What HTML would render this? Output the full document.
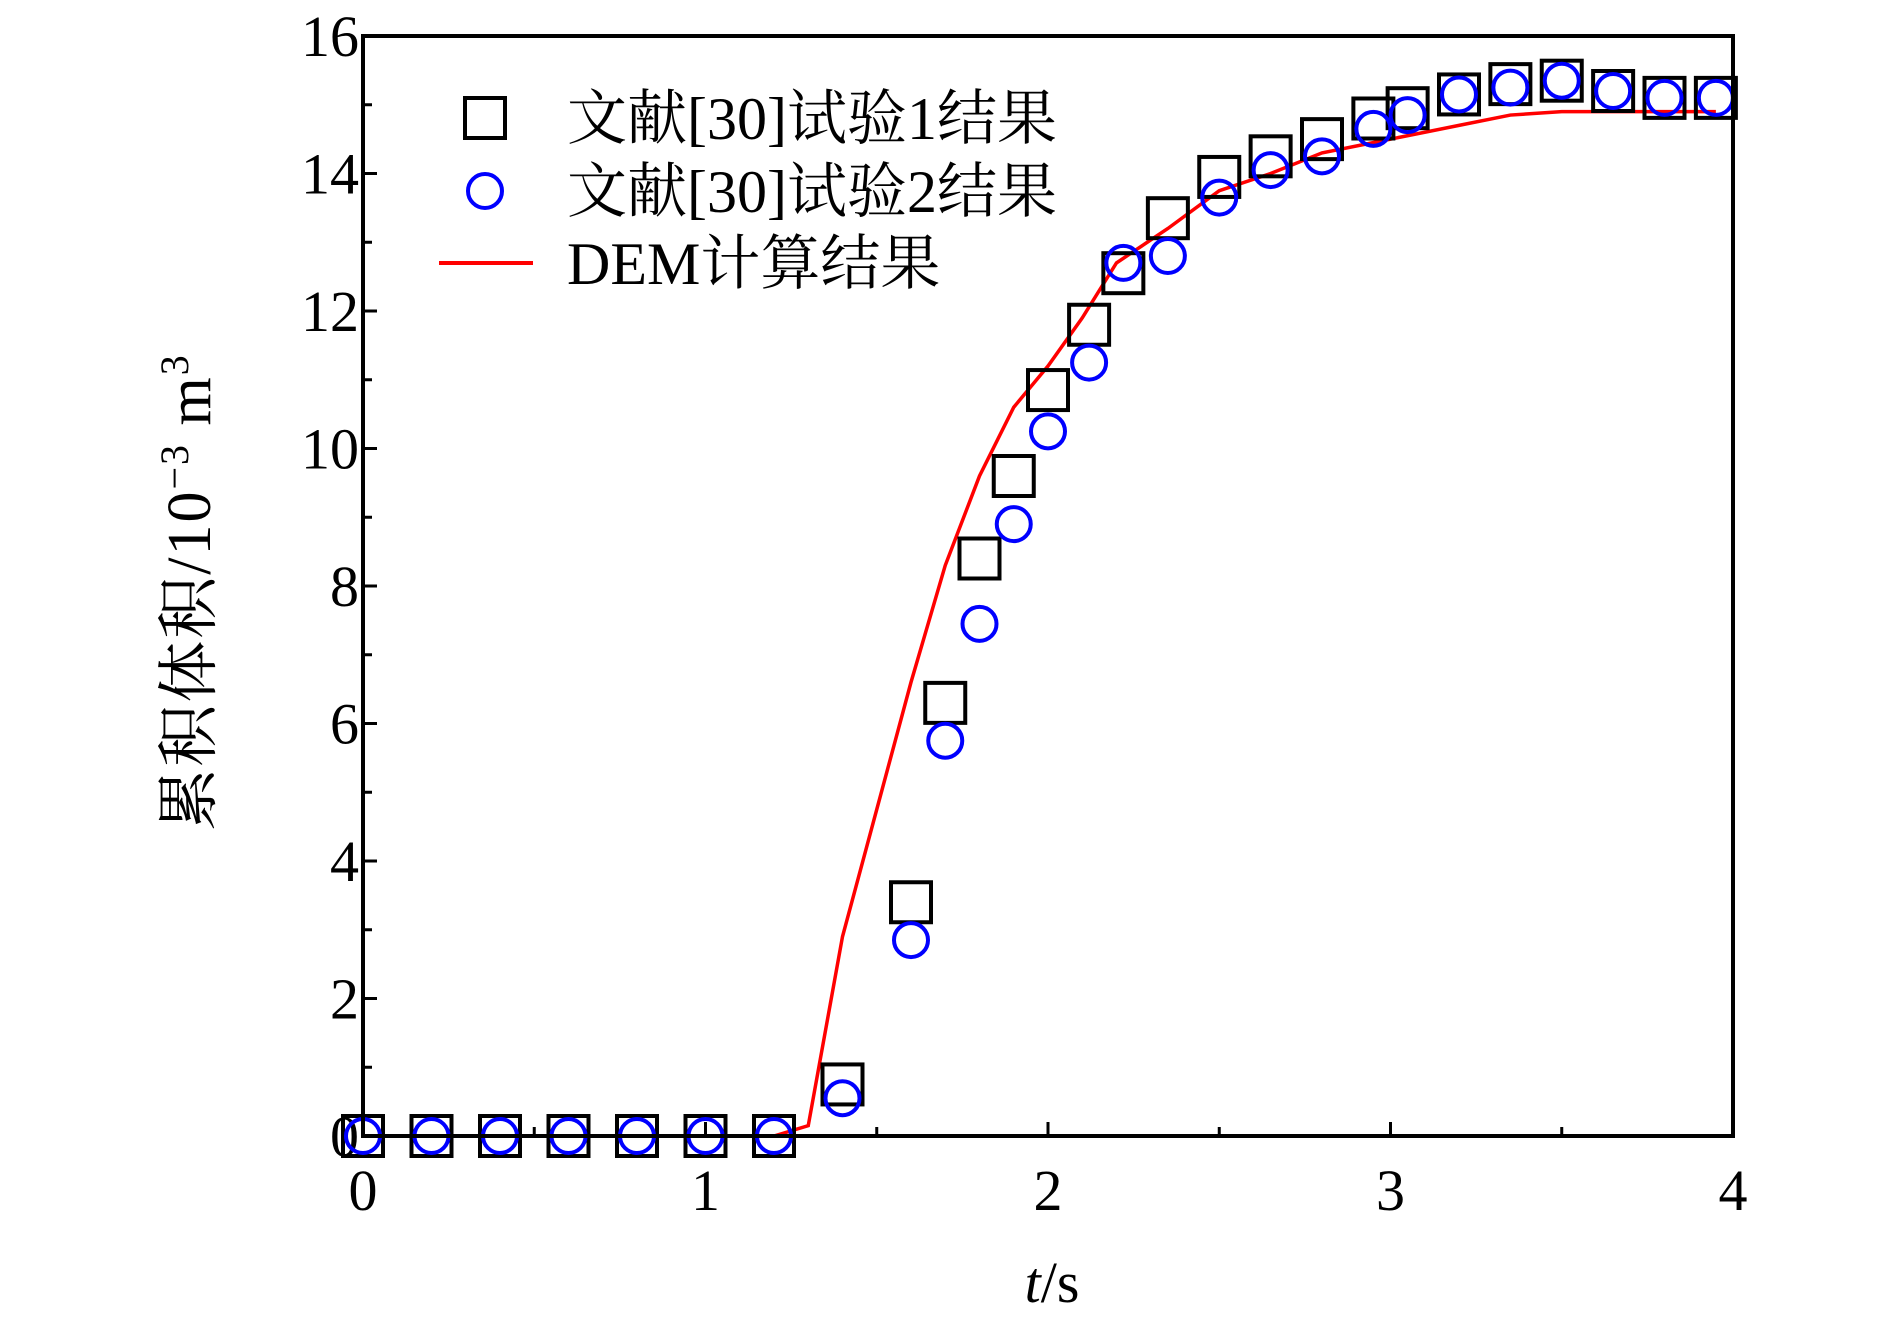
<!DOCTYPE html>
<html><head><meta charset="utf-8"><style>body{margin:0;background:#fff}svg{display:block}text{font-family:"Liberation Serif","Noto Serif CJK SC",serif}</style></head>
<body>
<svg id="chart" width="1890" height="1323">
<g id="g"></g>
</svg>
<script>
const xTicks=[0,1,2,3,4];
const yTicks=[0,2,4,6,8,10,12,14,16];
const sqX=[0,0.2,0.4,0.6,0.8,1.0,1.2,1.4,1.6,1.7,1.8,1.9,2.0,2.12,2.22,2.35,2.5,2.65,2.8,2.95,3.05,3.2,3.35,3.5,3.65,3.8,3.95];
const sqY=[0,0,0,0,0,0,0,0.75,3.4,6.3,8.4,9.6,10.85,11.8,12.55,13.35,13.95,14.25,14.5,14.8,14.95,15.15,15.3,15.35,15.2,15.1,15.1];
const ciX=[0,0.2,0.4,0.6,0.8,1.0,1.2,1.4,1.6,1.7,1.8,1.9,2.0,2.12,2.22,2.35,2.5,2.65,2.8,2.95,3.05,3.2,3.35,3.5,3.65,3.8,3.95];
const ciY=[0,0,0,0,0,0,0,0.55,2.85,5.75,7.45,8.9,10.25,11.25,12.7,12.8,13.65,14.05,14.25,14.65,14.85,15.15,15.25,15.35,15.2,15.1,15.1];
const lnX=[0,1.2,1.3,1.4,1.6,1.7,1.8,1.9,2.0,2.1,2.2,2.35,2.5,2.65,2.8,3.0,3.2,3.35,3.5,3.95];
const lnY=[0,0,0.15,2.9,6.6,8.3,9.6,10.6,11.2,11.9,12.7,13.2,13.75,14.0,14.3,14.5,14.7,14.85,14.9,14.9];
const L=363,R=1733,T=36,B=1136;
const sx=v=>L+(v-0)/4*(R-L), sy=v=>B-(v/16)*(B-T);
const g=document.getElementById('g');const NS='http://www.w3.org/2000/svg';
function mk(t,a,txt){const e=document.createElementNS(NS,t);for(const k in a)e.setAttribute(k,a[k]);if(txt!=null)e.textContent=txt;g.appendChild(e);return e;}
for(let v=0;v<=4;v+=0.5){const x=sx(v);const e=mk('line',{x1:x,x2:x,y1:B,y2:B-(Number.isInteger(v)?14:9),stroke:'#000','stroke-width':3});

}
for(let v=0;v<=16;v+=1){const y=sy(v);const e=mk('line',{x1:L,x2:L+(v%2==0?14:9),y1:y,y2:y,stroke:'#000','stroke-width':3});

}
xTicks.forEach(v=>{const e=mk('text',{x:sx(v),y:B+74,'font-size':58,'text-anchor':'middle'},v);

});
yTicks.forEach(v=>{const e=mk('text',{x:L-4,y:sy(v)+20,'font-size':58,'text-anchor':'end'},v);

});
const pl=mk('polyline',{points:lnX.map((x,i)=>sx(x)+','+sy(lnY[i])).join(' '),fill:'none',stroke:'#f00','stroke-width':3.5});


sqX.forEach((x,i)=>{const s=40;const e=mk('rect',{x:sx(x)-s/2,y:sy(sqY[i])-s/2,width:s,height:s,fill:'none',stroke:'#000','stroke-width':4});

});
ciX.forEach((x,i)=>{const e=mk('circle',{cx:sx(x),cy:sy(ciY[i]),r:17,fill:'none',stroke:'#00f','stroke-width':4});

});
const fr=mk('rect',{x:L,y:T,width:R-L,height:B-T,fill:'none',stroke:'#000','stroke-width':4});


let e=mk('rect',{x:465,y:98,width:40,height:40,fill:'none',stroke:'#000','stroke-width':4});


e=mk('circle',{cx:485,cy:191,r:17,fill:'none',stroke:'#00f','stroke-width':4});


e=mk('line',{x1:439,x2:533,y1:263,y2:263,stroke:'#f00','stroke-width':4});


[['文献[30]试验1结果',139],['文献[30]试验2结果',212],['DEM计算结果',284]].forEach(([t,y])=>{const e=mk('text',{x:567,y:y,'font-size':60},t);

});
e=mk('text',{x:1052,y:1302,'font-size':58,'text-anchor':'middle'});
e.innerHTML='<tspan font-style="italic">t</tspan>/s';


e=mk('text',{x:0,y:0,'font-size':62,'text-anchor':'middle','letter-spacing':2,transform:'translate(210,592) rotate(-90)'});
e.innerHTML='累积体积/10<tspan dy="-22" font-size="40">−3</tspan><tspan dy="22"> m</tspan><tspan dy="-22" font-size="40">3</tspan>';


</script>
</body></html>
